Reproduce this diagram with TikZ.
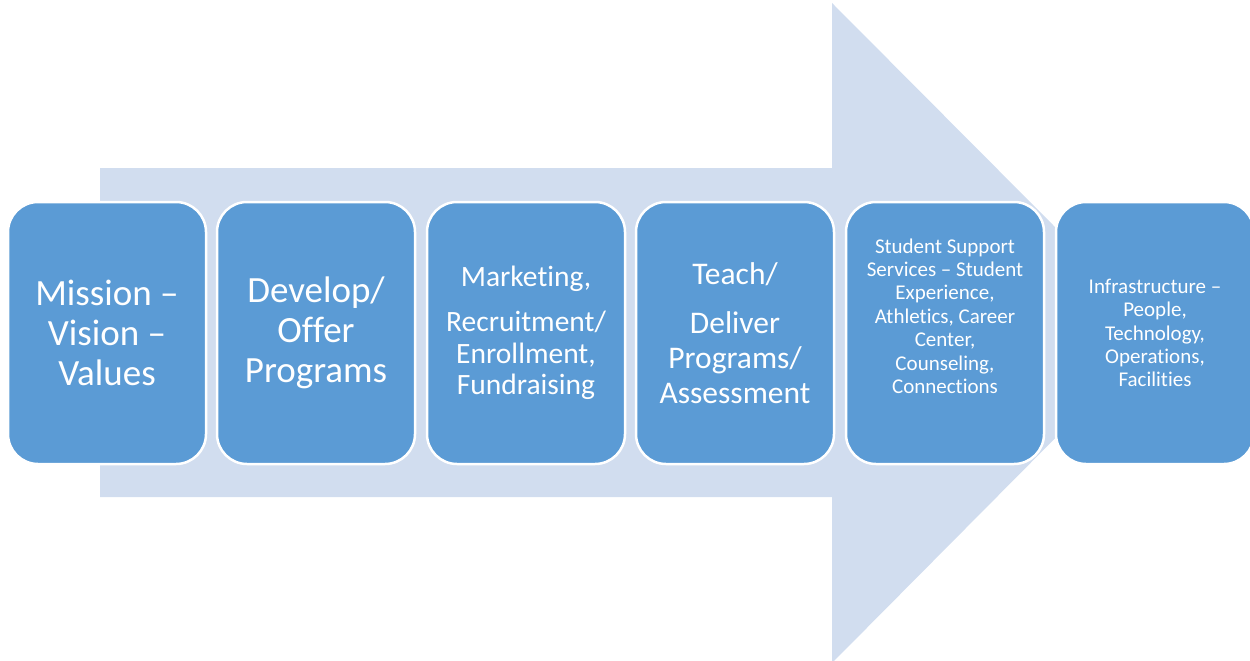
\documentclass[tikz,border=0pt]{standalone}
\usepackage{fontspec}
\setmainfont{Carlito}[Ligatures={NoCommon}]
\usepackage{xcolor}
\definecolor{boxblue}{HTML}{5B9BD5}
\definecolor{arrowblue}{HTML}{D1DDEF}
\tikzset{
    stage/.style = {
        draw            = white,
        line width      = 2.5pt,
        fill            = boxblue,
        rounded corners = 30pt,
        minimum width   = 198pt,
        minimum height  = 262pt,
        align           = center,
        text            = white,
        inner sep       = 0pt,
    },
    big/.style   = {font=\fontsize{37}{40}\selectfont},
    mid/.style   = {font=\fontsize{29.5}{31.5}\selectfont},
    large/.style = {font=\fontsize{31.5}{35}\selectfont},
    small/.style = {font=\fontsize{21}{23.4}\selectfont},
}

\begin{document}
\begin{tikzpicture}[x=1pt,y=-1pt]
  \useasboundingbox (0,0) rectangle (1250,661);

  % Big arrow behind
  \fill[arrowblue] (100,168) -- (832,168) -- (832,3) -- (1160,332.5)
    -- (832,663) -- (832,497) -- (100,497) -- cycle;

  % Stages
  \node[stage,big] (Mission) at (107,333) {Mission –\\Vision –\\Values};
  \node[stage,big] (Develop) at (316,333) {Develop/\\Offer\\Programs};
  \node[stage,mid] (Marketing) at (526,333) {Marketing,\\[14pt]Recruitment/\\Enrollment,\\Fundraising};
  \node[stage,large] (Teach) at (735,333) {Teach/\\[14pt]Deliver\\Programs/\\Assessment};
  \node[stage] (Support) at (945,333) {};
  \node[small,text=white,align=center] (SupportText) at (945,316)
    {Student Support\\Services – Student\\Experience,\\Athletics, Career\\Center,\\Counseling,\\Connections};
  \node[stage,small] (Infrastructure) at (1155,333) {Infrastructure –\\People,\\Technology,\\Operations,\\Facilities};

\end{tikzpicture}
\end{document}
